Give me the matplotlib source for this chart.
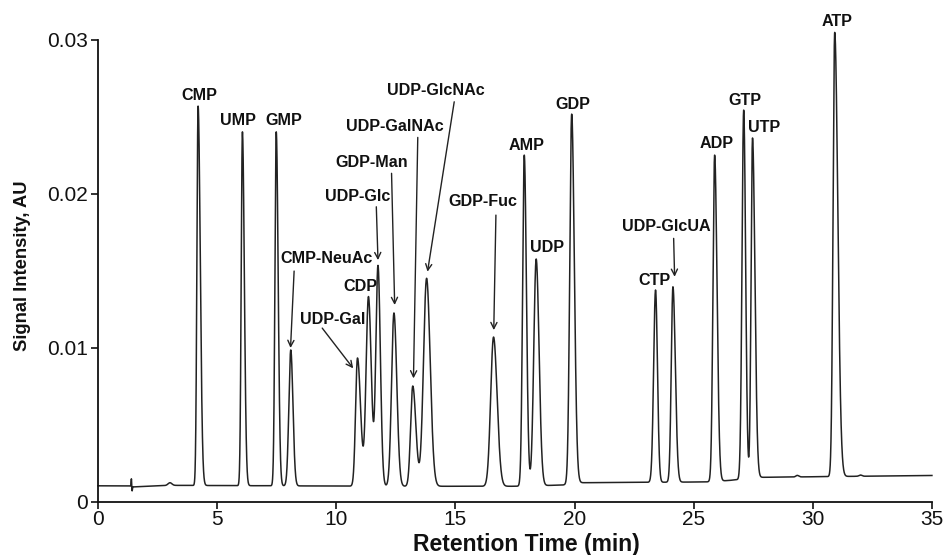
import numpy as np
import matplotlib
matplotlib.use("Agg")
import matplotlib.pyplot as plt

plt.rcParams['font.family'] = ['Liberation Sans', 'DejaVu Sans']

# peak table (retention time in min, signal in AU)
peak_names = ['CMP', 'UMP', 'GMP', 'CMP-NeuAc', 'UDP-Gal', 'CDP', 'UDP-Glc',
              'GDP-Man', 'UDP-GalNAc', 'UDP-GlcNAc', 'GDP-Fuc', 'AMP', 'UDP',
              'GDP', 'CTP', 'UDP-GlcUA', 'ADP', 'GTP', 'UTP', 'ATP']
peak_times = [4.20, 6.06, 7.48, 8.09, 10.89, 11.35, 11.75, 12.42, 13.21, 13.79,
              16.60, 17.89, 18.39, 19.88, 23.40, 24.13, 25.88, 27.10, 27.47, 30.92]
peak_heights = [0.02568, 0.02401, 0.02401, 0.00986, 0.00934, 0.01331, 0.01530,
                0.01226, 0.00752, 0.01451, 0.01070, 0.02250, 0.01576, 0.02516,
                0.01375, 0.01396, 0.02250, 0.02542, 0.02361, 0.03046]
sigma_left = [0.05, 0.05, 0.055, 0.08, 0.08, 0.10, 0.09, 0.10, 0.09, 0.13,
              0.12, 0.07, 0.10, 0.08, 0.08, 0.07, 0.07, 0.07, 0.06, 0.07]
sigma_right = [0.09, 0.08, 0.08, 0.09, 0.13, 0.12, 0.10, 0.12, 0.13, 0.15,
               0.15, 0.09, 0.12, 0.11, 0.08, 0.10, 0.10, 0.08, 0.10, 0.13]

# baseline drift
base_t = [0, 1.3, 1.5, 3.0, 12.0, 17.5, 19.5, 20.2, 25.5, 26.5, 27.8, 35.0]
base_v = [0.00105, 0.00105, 0.00098, 0.00108, 0.00102, 0.00102, 0.00110,
          0.00125, 0.00130, 0.00140, 0.00160, 0.00172]

# small blips: injection spike and minor bumps
blip_t = [1.40, 1.43, 3.02, 29.35, 32.0]
blip_h = [0.00050, -0.00030, 0.00017, 0.00010, 0.00008]
blip_w = [0.012, 0.012, 0.08, 0.06, 0.06]

# labels sitting directly over a peak: offset (points)
plain_labels = {'CMP': (1, 8), 'UMP': (-3, 8.5), 'GMP': (5.5, 8.5),
                'CDP': (-6, 7.7), 'AMP': (1.3, 6.7), 'UDP': (8, 8),
                'GDP': (1, 7), 'CTP': (-1, 7.2), 'ADP': (1.7, 8.3),
                'GTP': (1, 7.2), 'UTP': (8.6, 7.4), 'ATP': (1.4, 8)}

# labels with arrows: text centre, arrow start, arrow tip
arrow_labels = {
    'CMP-NeuAc': ((9.61, 0.01582), (8.23, 0.01498), (8.08, 0.00999)),
    'UDP-Gal': ((9.83, 0.01187), (9.41, 0.01128), (10.71, 0.00867)),
    'UDP-Glc': ((10.88, 0.01980), (11.68, 0.01915), (11.75, 0.01569)),
    'GDP-Man': ((11.50, 0.02200), (12.32, 0.02132), (12.45, 0.01278)),
    'UDP-GalNAc': ((12.44, 0.02434), (13.42, 0.02365), (13.24, 0.00802)),
    'UDP-GlcNAc': ((14.17, 0.02672), (14.95, 0.02596), (13.83, 0.01494)),
    'GDP-Fuc': ((16.17, 0.01947), (16.70, 0.01861), (16.61, 0.01115)),
    'UDP-GlcUA': ((23.87, 0.01790), (24.16, 0.01710), (24.20, 0.01461)),
}

t = np.linspace(0, 35, 14001)
baseline = np.interp(t, base_t, base_v)
signal = baseline.copy()
for t0, h, sl, sr in zip(peak_times, peak_heights, sigma_left, sigma_right):
    amp = h - np.interp(t0, base_t, base_v)
    s = np.where(t < t0, sl, sr)
    signal += amp * np.exp(-0.5 * ((t - t0) / s) ** 2)
for t0, h, w in zip(blip_t, blip_h, blip_w):
    signal += h * np.exp(-0.5 * ((t - t0) / w) ** 2)

fig = plt.figure(figsize=(9.49, 5.55), dpi=100)
ax = fig.add_axes([0.1033, 0.0955, 0.8787, 0.8333])
ax.plot(t, signal, color='#222222', lw=1.1, clip_on=False)

ax.set_xlim(0, 35)
ax.set_ylim(0, 0.03)
ax.set_xticks(np.arange(0, 36, 5))
ax.set_yticks([0, 0.01, 0.02, 0.03])
ax.set_yticklabels(['0', '0.01', '0.02', '0.03'])
ax.tick_params(direction='out', length=5, width=1.2, labelsize=15, pad=2, colors='#111111')
ax.tick_params(axis='x', pad=1)
for side in ['top', 'right']:
    ax.spines[side].set_visible(False)
for side in ['left', 'bottom']:
    ax.spines[side].set_linewidth(1.3)
    ax.spines[side].set_color('#111111')

lab_font = dict(fontsize=11.6, fontweight='bold', color='#111111')
for name, (dx, dy) in plain_labels.items():
    i = peak_names.index(name)
    ax.annotate(name, xy=(peak_times[i], peak_heights[i]), xytext=(dx, dy),
                textcoords='offset points', ha='center', va='center',
                annotation_clip=False, **lab_font)

for name, (txt, start, tip) in arrow_labels.items():
    ax.text(txt[0], txt[1], name, ha='center', va='center', **lab_font)
    ax.annotate('', xy=tip, xytext=start,
                arrowprops=dict(arrowstyle='->', lw=1.0, color='#222222',
                                shrinkA=0, shrinkB=0, mutation_scale=11))

fig.text(526 / 949, 1 - 545 / 555, 'Retention Time (min)', fontsize=16.5,
         fontweight='bold', ha='center', va='center', color='#111111')
fig.text(23 / 949, 1 - 266 / 555, 'Signal Intensity, AU', fontsize=13.2,
         fontweight='bold', ha='center', va='center', rotation=90, color='#111111')

fig.savefig('out.png', dpi=100)
